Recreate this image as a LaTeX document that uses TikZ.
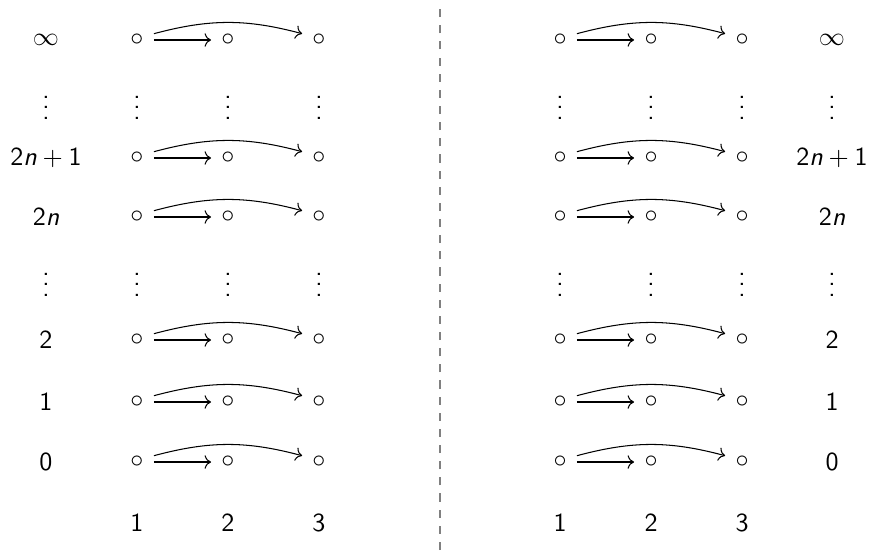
\documentclass[tikz,border=0pt]{standalone}
\usetikzlibrary{arrows.meta}
\begin{document}
\begin{tikzpicture}[x=0.384pt,y=-0.384pt,font=\sffamily,
  pt/.style={inner sep=0pt,minimum width=12.6pt,minimum height=3.84pt},
  lab/.style={inner sep=0pt},
  arr/.style={->,line width=0.4pt},
  sep/.style={draw=gray,line width=0.5pt,dash pattern=on 3.1pt off 3.1pt}]
\useasboundingbox (0,0) rectangle (870,550);
\def\rows{40/a/$\infty$,158/c/2\textit{n}${}+{}$1,217/d/2\textit{n},340/f/2,402/g/1,462/h/0}
\foreach \y/\r/\t in \rows {
  \node[lab] (L\r) at (46,\y) {\t};
  \node[pt] (L\r1) at (137,\y) {$\circ$};
  \node[pt] (L\r2) at (228,\y) {$\circ$};
  \node[pt] (L\r3) at (319,\y) {$\circ$};
  \draw[arr] (L\r1) -- (L\r2);
  \draw[arr] (L\r1.north east) to[out=15,in=165] (L\r3.north west);
  \node[lab] (R\r) at (832,\y) {\t};
  \node[pt] (R\r1) at (560,\y) {$\circ$};
  \node[pt] (R\r2) at (651,\y) {$\circ$};
  \node[pt] (R\r3) at (742,\y) {$\circ$};
  \draw[arr] (R\r1) -- (R\r2);
  \draw[arr] (R\r1.north east) to[out=15,in=165] (R\r3.north west);
}
\foreach \y/\r in {100/b,277/e} {
  \foreach \x/\c in {46/L,137/L1,228/L2,319/L3,560/R1,651/R2,742/R3,832/R} {
    \node[lab] (V\c\r) at (\x,\y) {$\vdots$};
  }
}
\foreach \x/\t/\n in {137/1/a,228/2/b,319/3/c,560/1/d,651/2/e,742/3/f} {
  \node[lab] (B\n) at (\x,523) {\t};
}
\coordinate (st) at (440,550);
\coordinate (en) at (440,6);
\draw[sep] (st) -- (en);
\end{tikzpicture}
\end{document}
